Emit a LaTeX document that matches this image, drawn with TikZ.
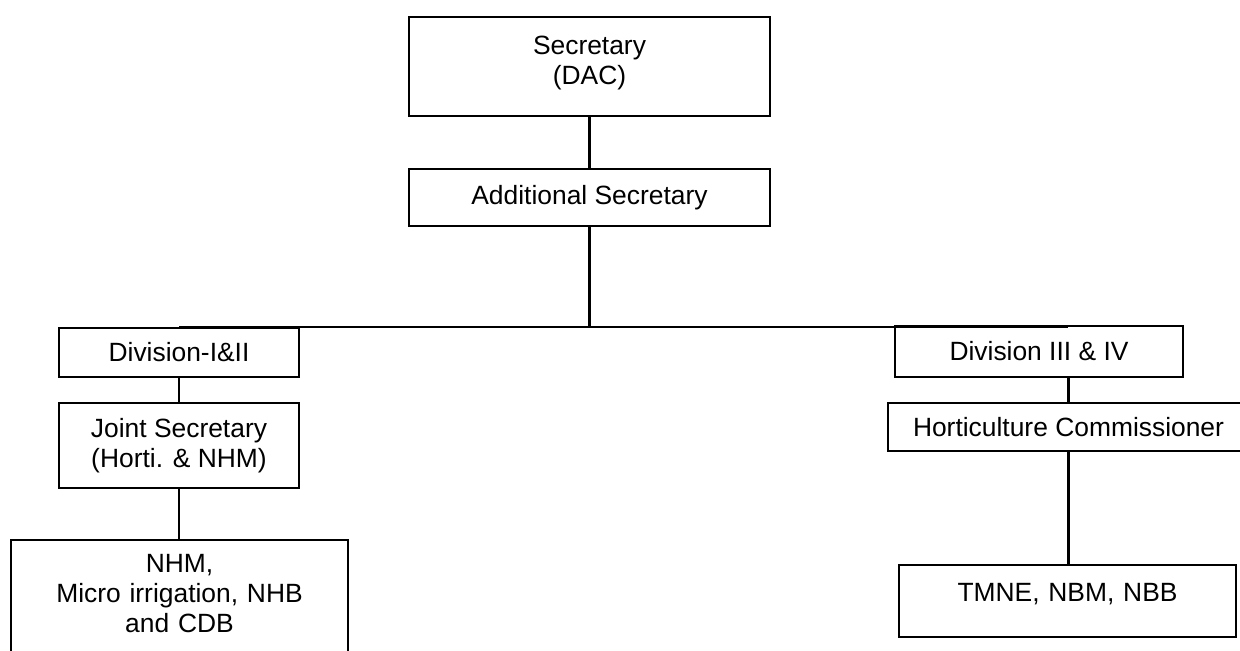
\documentclass[tikz,border=0pt]{standalone}
\usepackage{fontspec}
\setmainfont{Liberation Sans}
\usepackage{tikz}
\tikzset{
box/.style={rectangle, draw, inner sep=0pt, align=center, line width=1.1pt,
  font=\fontsize{13.2}{15}\selectfont},
link/.style={line width=1.1pt}
}

\begin{document}
\begin{tikzpicture}[x=0.5pt,y=-0.5pt]
\useasboundingbox (0,0) rectangle (1240,651);
\fill[white] (0,0) rectangle (1240,651);
\clip (0,0) rectangle (1240,651);

\node[box, anchor=north, text width=180.5pt, text height=18.5pt, text depth=31pt] (sec) at (589.5,16) {Secretary\\(DAC)};
\node[box, minimum width=180.5pt, minimum height=28.5pt] (addl) at (589.5,197.5) {Additional Secretary};
\node[box, minimum width=120pt, minimum height=24.5pt] (div1) at (179,352.5) {Division-I\&II};
\node[box, minimum width=120pt, minimum height=42.5pt] (js) at (179,445.5) {Joint Secretary\\(Horti. \& NHM)};
\node[box, anchor=north, text width=168.5pt, text height=16pt, text depth=44.5pt] (nhm) at (179.5,539) {NHM,\\Micro irrigation, NHB\\and CDB};
\node[box, minimum width=144pt, minimum height=25.5pt] (div3) at (1039,351.5) {Division III \& IV};
\node[box, minimum width=180.5pt, minimum height=24pt] (hc) at (1068.5,427) {Horticulture Commissioner};
\node[box, anchor=north, text width=168.5pt, text height=18pt, text depth=18pt] (tmne) at (1067.5,564) {TMNE, NBM, NBB};

\coordinate (lbar) at (179,327);
\coordinate (rbar) at (1068,327);

\draw[link] (sec) -- (addl);
\draw[link] (addl.south) -- (addl.south |- lbar);
\draw[link] (lbar) -- (rbar);
\draw[link] (div1.north) -- (lbar);
\draw[link] (div1) -- (js);
\draw[link] (js.south) -- (js.south |- nhm.north);
\draw[link] (hc.north) -- (hc.north |- div3.south);
\draw[link] (hc.south) -- (hc.south |- tmne.north);
\end{tikzpicture}
\end{document}
